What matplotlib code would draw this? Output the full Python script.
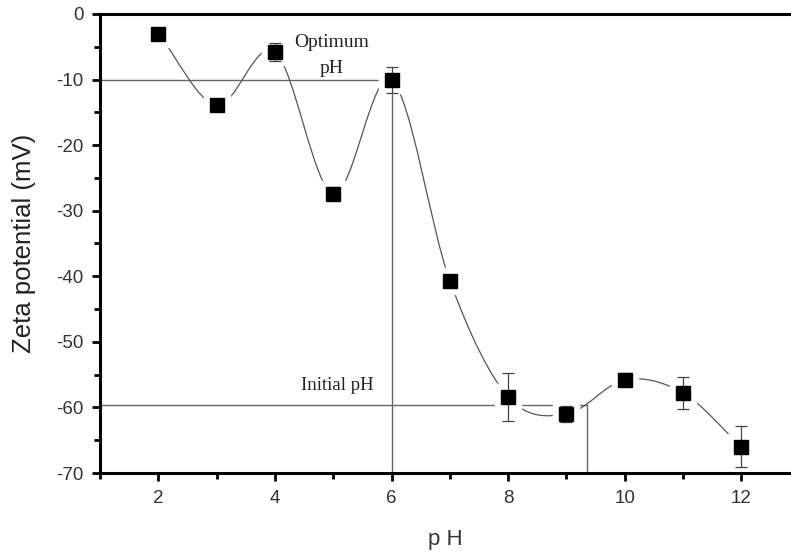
import numpy as np
import matplotlib
matplotlib.use("Agg")
from matplotlib import pyplot as plt
from matplotlib.path import Path
from matplotlib.patches import PathPatch
from matplotlib.ticker import MultipleLocator

# Daten
ph = [2, 3, 4, 5, 6, 7, 8, 9, 10, 11, 12]
zeta = [-3.0, -13.9, -5.8, -27.4, -10.1, -40.7, -58.4, -61.0, -55.8, -57.8, -66.0]
err = [0.0, 0.0, 1.4, 1.0, 2.0, 0.0, 3.6, 1.2, 1.0, 2.4, 3.1]
optimum_ph, optimum_zeta = 6.0, -10.0
initial_ph, initial_zeta = 9.35, -59.6

plt.rcParams['axes.unicode_minus'] = False
plt.rcParams['font.family'] = ['Liberation Sans', 'DejaVu Sans']

fig = plt.figure(figsize=(7.91, 5.57), dpi=100)
ax = fig.add_axes([0.1264, 0.1508, 0.8736, 0.8241])

# Glatte Kurve (Catmull-Rom als Bezier)
pts = np.column_stack([ph, zeta]).astype(float)
ext = np.vstack([2 * pts[0] - pts[1], pts, 2 * pts[-1] - pts[-2]])
verts = [tuple(pts[0])]
codes = [Path.MOVETO]
for i in range(1, len(ext) - 2):
    p0, p1, p2, p3 = ext[i - 1], ext[i], ext[i + 1], ext[i + 2]
    c1 = p1 + (p2 - p0) / 6
    c2 = p2 - (p3 - p1) / 6
    verts += [tuple(c1), tuple(c2), tuple(p2)]
    codes += [Path.CURVE4] * 3
ax.add_patch(PathPatch(Path(verts, codes), facecolor='none', edgecolor='#555555', lw=0.9, zorder=2))

# Hilfslinien
ax.plot([1, optimum_ph], [optimum_zeta, optimum_zeta], color='#666666', lw=1.0, zorder=1)
ax.plot([optimum_ph, optimum_ph], [optimum_zeta, -70], color='#666666', lw=1.0, zorder=1)
ax.plot([1, initial_ph], [initial_zeta, initial_zeta], color='#666666', lw=1.0, zorder=1)
ax.plot([initial_ph, initial_ph], [initial_zeta, -70], color='#666666', lw=1.0, zorder=1)

# Punkte mit weissem Rand + Fehlerbalken
ax.plot(ph, zeta, linestyle='', marker='s', markersize=19, color='white', zorder=3)
ax.errorbar(ph, zeta, yerr=err, fmt='none', ecolor='#444444', elinewidth=0.9, capsize=4, capthick=0.9, zorder=4)
ax.plot(ph, zeta, linestyle='', marker='s', markersize=10, color='black', zorder=5)

# Texte
ax.text(4.98, -4.4, "Optimum", family='Liberation Serif', fontsize=14, ha='center', va='center', color='#222222')
ax.text(4.98, -8.3, "pH", family='Liberation Serif', fontsize=14, ha='center', va='center', color='#222222')
ax.text(5.07, -56.6, "Initial pH", family='Liberation Serif', fontsize=13.5, ha='center', va='center', color='#222222')

# Achsen
ax.set_xlim(1, 12.85)
ax.set_ylim(-70, 0)
ax.xaxis.set_major_locator(MultipleLocator(2))
ax.xaxis.set_minor_locator(MultipleLocator(1))
ax.yaxis.set_major_locator(MultipleLocator(10))
ax.yaxis.set_minor_locator(MultipleLocator(5))
ax.set_xticks([2, 4, 6, 8, 10, 12])
ax.tick_params(which='major', direction='out', length=6, width=2, labelsize=13.5, colors='black',
               labelcolor='#333333', pad=6)
ax.tick_params(which='minor', direction='out', length=4, width=2)
ax.spines['right'].set_visible(False)
for s in ['left', 'bottom', 'top']:
    ax.spines[s].set_linewidth(2.2)

ax.set_xlabel("p H", fontsize=16, color='#333333', labelpad=16)
ax.set_ylabel("Zeta potential (mV)", fontsize=18.5, color='#222222', labelpad=14)

fig.savefig("out.png", dpi=100)
